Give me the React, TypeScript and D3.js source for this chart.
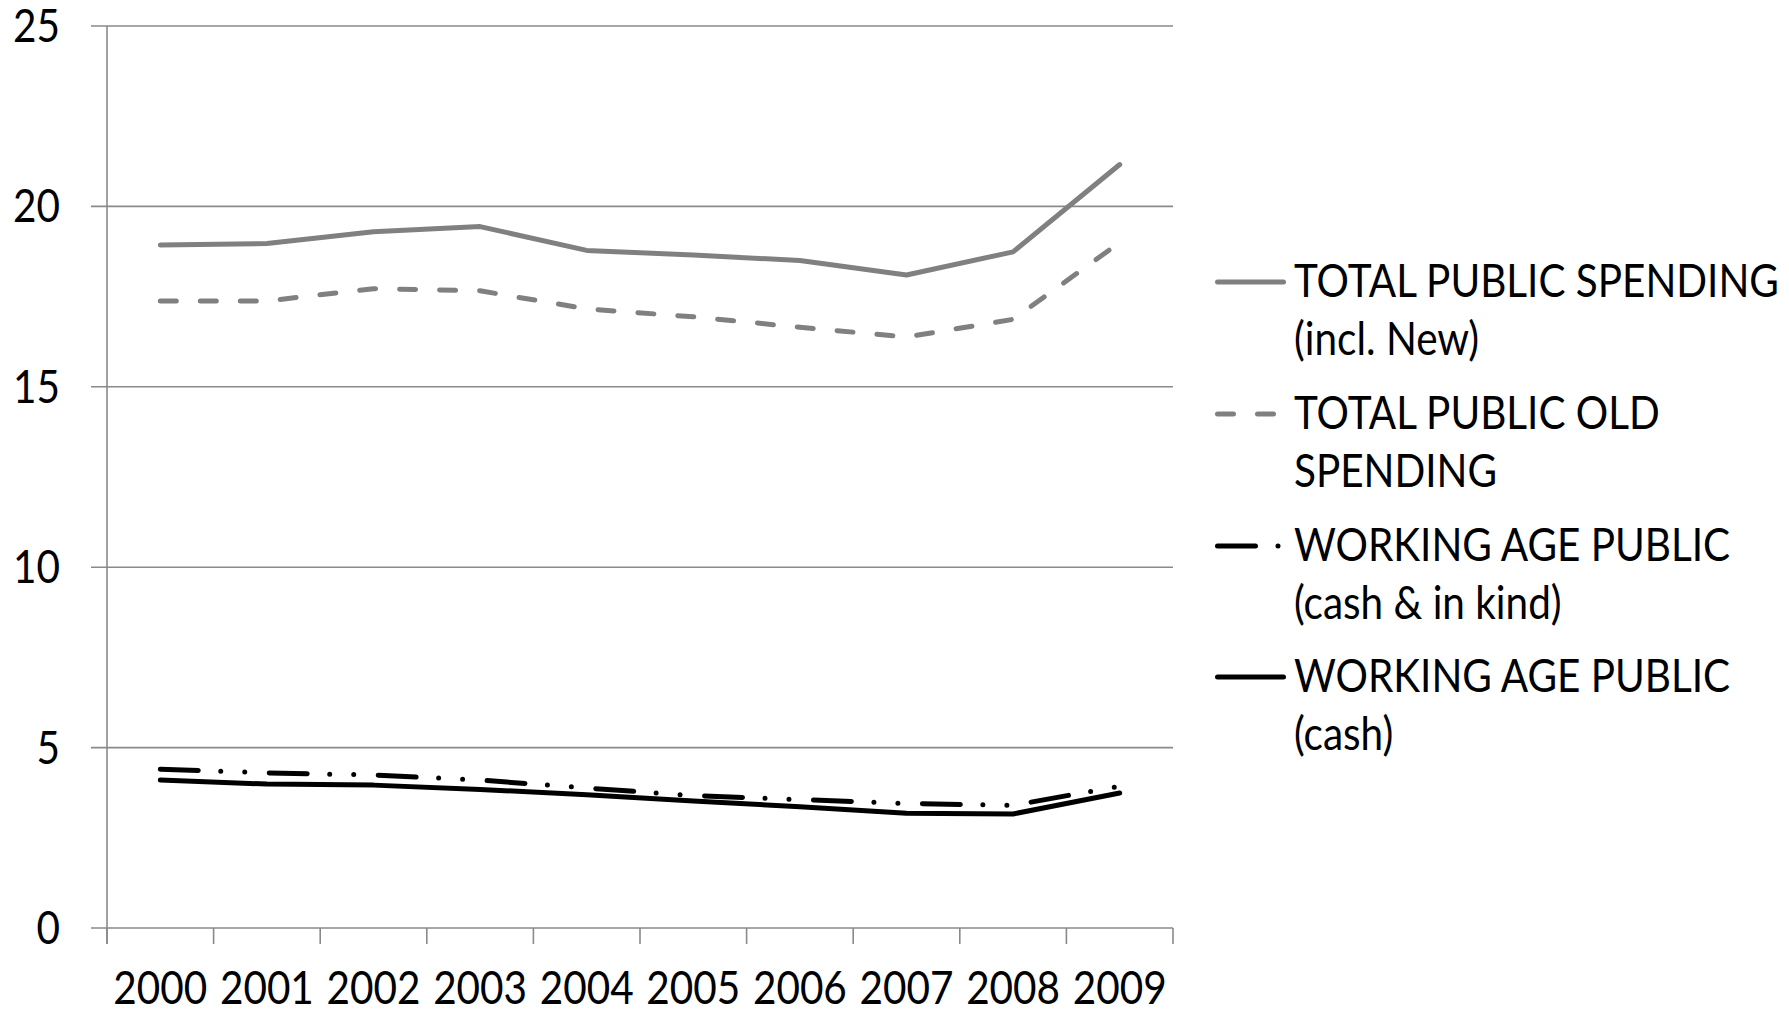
import { useEffect, useRef } from "react";
import * as d3 from "d3";

// Anos (categorias do eixo X)
const ANOS = ["2000", "2001", "2002", "2003", "2004", "2005", "2006", "2007", "2008", "2009"];

// Séries
const TOTAL_NEW = [18.93, 18.97, 19.3, 19.44, 18.78, 18.65, 18.5, 18.1, 18.74, 21.16];
const TOTAL_OLD = [17.38, 17.38, 17.72, 17.66, 17.16, 16.94, 16.65, 16.38, 16.87, 19.0];
const WORKING_KIND = [4.4, 4.3, 4.24, 4.1, 3.88, 3.67, 3.56, 3.45, 3.4, 3.93];
const WORKING_CASH = [4.1, 3.99, 3.96, 3.84, 3.69, 3.52, 3.36, 3.18, 3.16, 3.74];

// Ticks do eixo Y
const Y_TICKS = [0, 5, 10, 15, 20, 25];

const SERIES = [
  { label: ["TOTAL PUBLIC SPENDING", "(incl. New)"], values: TOTAL_NEW, color: "#808080", dash: null },
  { label: ["TOTAL PUBLIC OLD", "SPENDING"], values: TOTAL_OLD, color: "#808080", dash: "16,24" },
  { label: ["WORKING AGE PUBLIC", "(cash & in kind)"], values: WORKING_KIND, color: "#000000", dash: "38,22.5,0,24,0,24.5" },
  { label: ["WORKING AGE PUBLIC", "(cash)"], values: WORKING_CASH, color: "#000000", dash: null }
];

const WIDTH = 1789;
const HEIGHT = 1010;
const FONT = "Lato, 'Open Sans', sans-serif";
const FONT_SIZE = "46px";
// Compressão horizontal do texto (fonte original mais estreita)
const SX = 0.88;

const App = () => {
  const svgRef = useRef<SVGSVGElement>(null);

  useEffect(() => {
    if (!svgRef.current) return;
    const svg = d3.select(svgRef.current);
    svg.selectAll("*").remove();

    const left = 107, right = 1173, top = 26, bottom = 928;

    const xScale = d3.scaleBand().domain(ANOS).range([left, right]).padding(0);
    const yScale = d3.scaleLinear().domain([0, 25]).range([bottom, top]);

    const texto = (x: number, y: number, anchor: string, t: string) =>
      svg.append("text")
        .attr("transform", `translate(${x},${y}) scale(${SX},1)`)
        .attr("text-anchor", anchor)
        .style("font-family", FONT)
        .style("font-size", FONT_SIZE)
        .text(t);

    // Grid horizontal (com tick à esquerda)
    svg.append("g")
      .selectAll("line")
      .data(Y_TICKS)
      .enter()
      .append("line")
      .attr("x1", left - 16)
      .attr("x2", right)
      .attr("y1", (d) => yScale(d))
      .attr("y2", (d) => yScale(d))
      .attr("stroke", "#8a8a8a")
      .attr("stroke-width", 1.6);

    // Eixo Y
    svg.append("line")
      .attr("x1", left).attr("x2", left)
      .attr("y1", yScale(25)).attr("y2", bottom + 16)
      .attr("stroke", "#8a8a8a")
      .attr("stroke-width", 1.6);

    // Ticks do eixo X (limites das bandas)
    const limites = ANOS.map((a) => xScale(a) ?? 0).concat([right]);
    svg.append("g")
      .selectAll("line")
      .data(limites)
      .enter()
      .append("line")
      .attr("x1", (d) => d).attr("x2", (d) => d)
      .attr("y1", bottom).attr("y2", bottom + 16)
      .attr("stroke", "#8a8a8a")
      .attr("stroke-width", 1.6);

    // Labels Y
    Y_TICKS.forEach((d) => texto(60, yScale(d) + 16, "end", String(d)));

    // Labels X
    ANOS.forEach((d) => texto((xScale(d) ?? 0) + xScale.bandwidth() / 2, 1004, "middle", d));

    // Linhas
    const linha = d3
      .line<number>()
      .x((_, i) => (xScale(ANOS[i]) ?? 0) + xScale.bandwidth() / 2)
      .y((d) => yScale(d));

    SERIES.forEach((s) => {
      const path = svg.append("path")
        .datum(s.values)
        .attr("fill", "none")
        .attr("stroke", s.color)
        .attr("stroke-width", 5)
        .attr("stroke-linecap", "round")
        .attr("stroke-linejoin", "round")
        .attr("d", linha);
      if (s.dash) path.attr("stroke-dasharray", s.dash);
    });

    // Legenda
    const legendY = [282, 414, 546, 677];
    SERIES.forEach((s, i) => {
      const y = legendY[i];
      const l = svg.append("line")
        .attr("x1", 1217.5).attr("x2", 1283.5)
        .attr("y1", y).attr("y2", y)
        .attr("stroke", s.color)
        .attr("stroke-width", 5)
        .attr("stroke-linecap", "round");
      if (s.dash) l.attr("stroke-dasharray", s.dash);

      s.label.forEach((txt, j) => texto(1294, y + 15 + j * 58, "start", txt));
    });
  }, []);

  return (
    <svg
      ref={svgRef}
      width={WIDTH}
      height={HEIGHT}
      style={{ position: "absolute", left: 0, top: 0, background: "#fff" }}
    />
  );
};

export default App;
